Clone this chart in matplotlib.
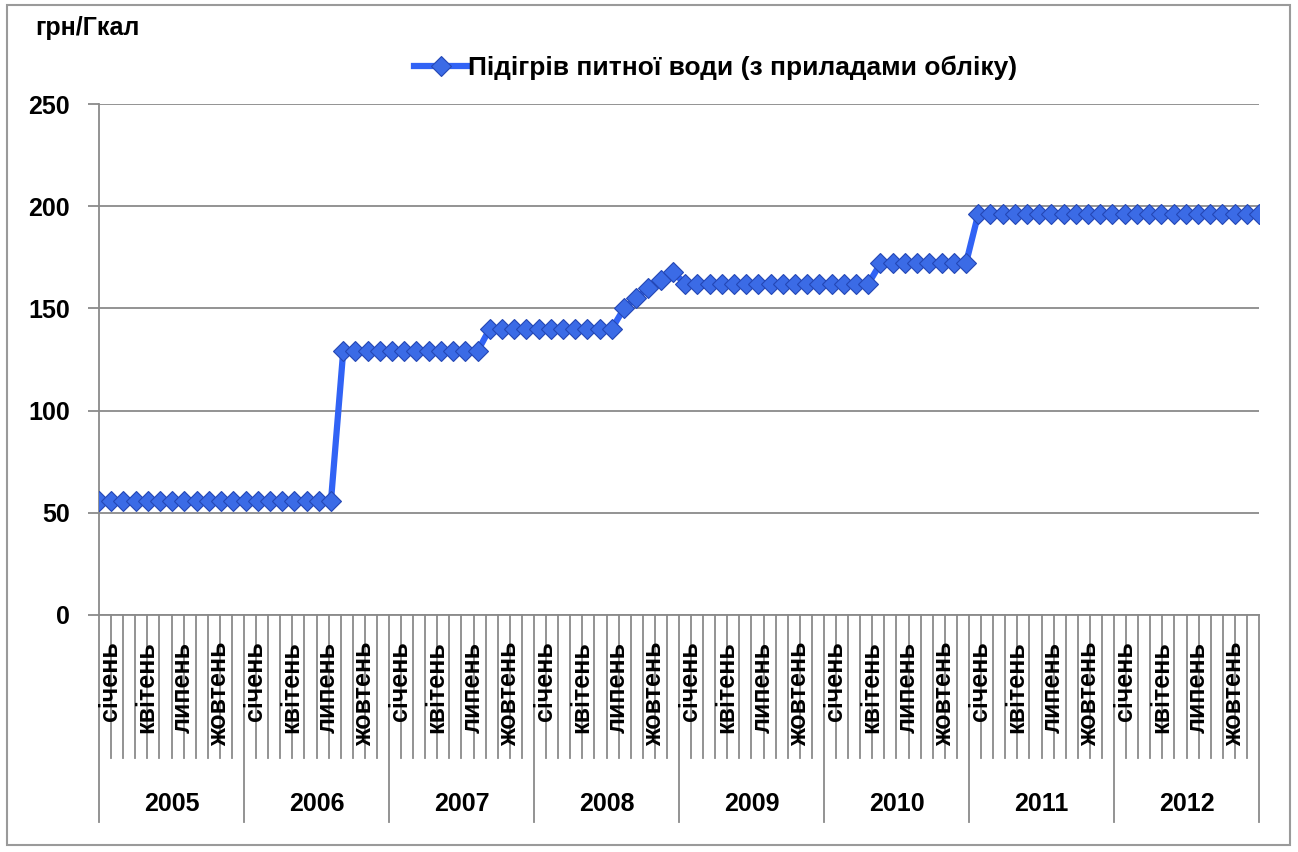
import numpy as np
import matplotlib
matplotlib.use("Agg")
import matplotlib.pyplot as plt
from matplotlib.patches import Rectangle

plt.rcParams['font.family'] = ['Liberation Sans', 'DejaVu Sans']
plt.rcParams['font.weight'] = 'bold'

# дані: тариф на підігрів питної води, грн/Гкал, по місяцях 2005-2012
years = ['2005', '2006', '2007', '2008', '2009', '2010', '2011', '2012']
months = ['січень', 'лютий', 'березень', 'квітень', 'травень', 'червень',
          'липень', 'серпень', 'вересень', 'жовтень', 'листопад', 'грудень']
shown_months = ['січень', 'квітень', 'липень', 'жовтень']

values = ([56] * 20            # 2005-01 .. 2006-08
          + [129] * 12         # 2006-09 .. 2007-08
          + [140] * 11         # 2007-09 .. 2008-07
          + [150, 155, 160, 164, 168]   # 2008-08 .. 2008-12
          + [162] * 16         # 2009-01 .. 2010-04
          + [172] * 8          # 2010-05 .. 2010-12
          + [196] * 24)        # 2011-01 .. 2012-12
series_name = 'Підігрів питної води (з приладами обліку)'
y_label = 'грн/Гкал'

W, H = 1298, 852
fig = plt.figure(figsize=(W / 100, H / 100), dpi=100)
ax = fig.add_axes([99 / W, 1 - 615 / H, (1259 - 99) / W, (615 - 104) / H])

n = len(values)
x = np.arange(n)
grey = '#8a8a8a'
fs = 18

ax.plot(x, values, color='#3163f5', lw=4.5, marker='D', ms=10.5,
        mfc='#3b6be6', mec='#2447b5', mew=0.8, label=series_name, zorder=3)

ax.set_xlim(0, n - 1)
ax.set_ylim(0, 250)
ax.set_yticks(np.arange(0, 251, 50))
ax.yaxis.grid(True, color=grey, lw=1.3)
ax.set_axisbelow(True)
ax.set_xticks([])
ax.tick_params(axis='y', length=8, width=1.3, color=grey, pad=13, labelsize=fs)
for s in ['top', 'right']:
    ax.spines[s].set_visible(False)
for s in ['left', 'bottom']:
    ax.spines[s].set_color(grey)
    ax.spines[s].set_linewidth(1.3)

# багаторівнева вісь категорій: місяці та роки
tr = ax.get_xaxis_transform()
cat_w = (n - 1) / n
for k in range(n + 1):
    xk = k * cat_w
    bottom = -0.405 if k % 12 == 0 else -0.28
    ax.plot([xk, xk], [0, bottom], transform=tr, color=grey, lw=1.3,
            clip_on=False)
for yi, yr in enumerate(years):
    for mi, m in enumerate(months):
        if m in shown_months:
            i = yi * 12 + mi
            ax.text((i + 0.5) * cat_w + 0.4, -0.052, m, transform=tr,
                    rotation=90, ha='center', va='top', fontsize=fs)
    ax.text((yi * 12 + 6) * cat_w, -0.37, yr, transform=tr,
            ha='center', va='center', fontsize=fs)

fig.text(35 / W, 1 - 28 / H, y_label, ha='left', va='center', fontsize=fs)

ax.legend(loc='center', bbox_to_anchor=(716 / W, 1 - 68 / H),
          bbox_transform=fig.transFigure, frameon=False, fontsize=19,
          handlelength=2.0, handletextpad=0.05)

fig.patches.append(Rectangle((7 / W, 7 / H), 1283 / W, 840 / H,
                             transform=fig.transFigure, fill=False,
                             edgecolor='#9a9a9a', lw=1.5))

fig.savefig('out.png', dpi=100)
